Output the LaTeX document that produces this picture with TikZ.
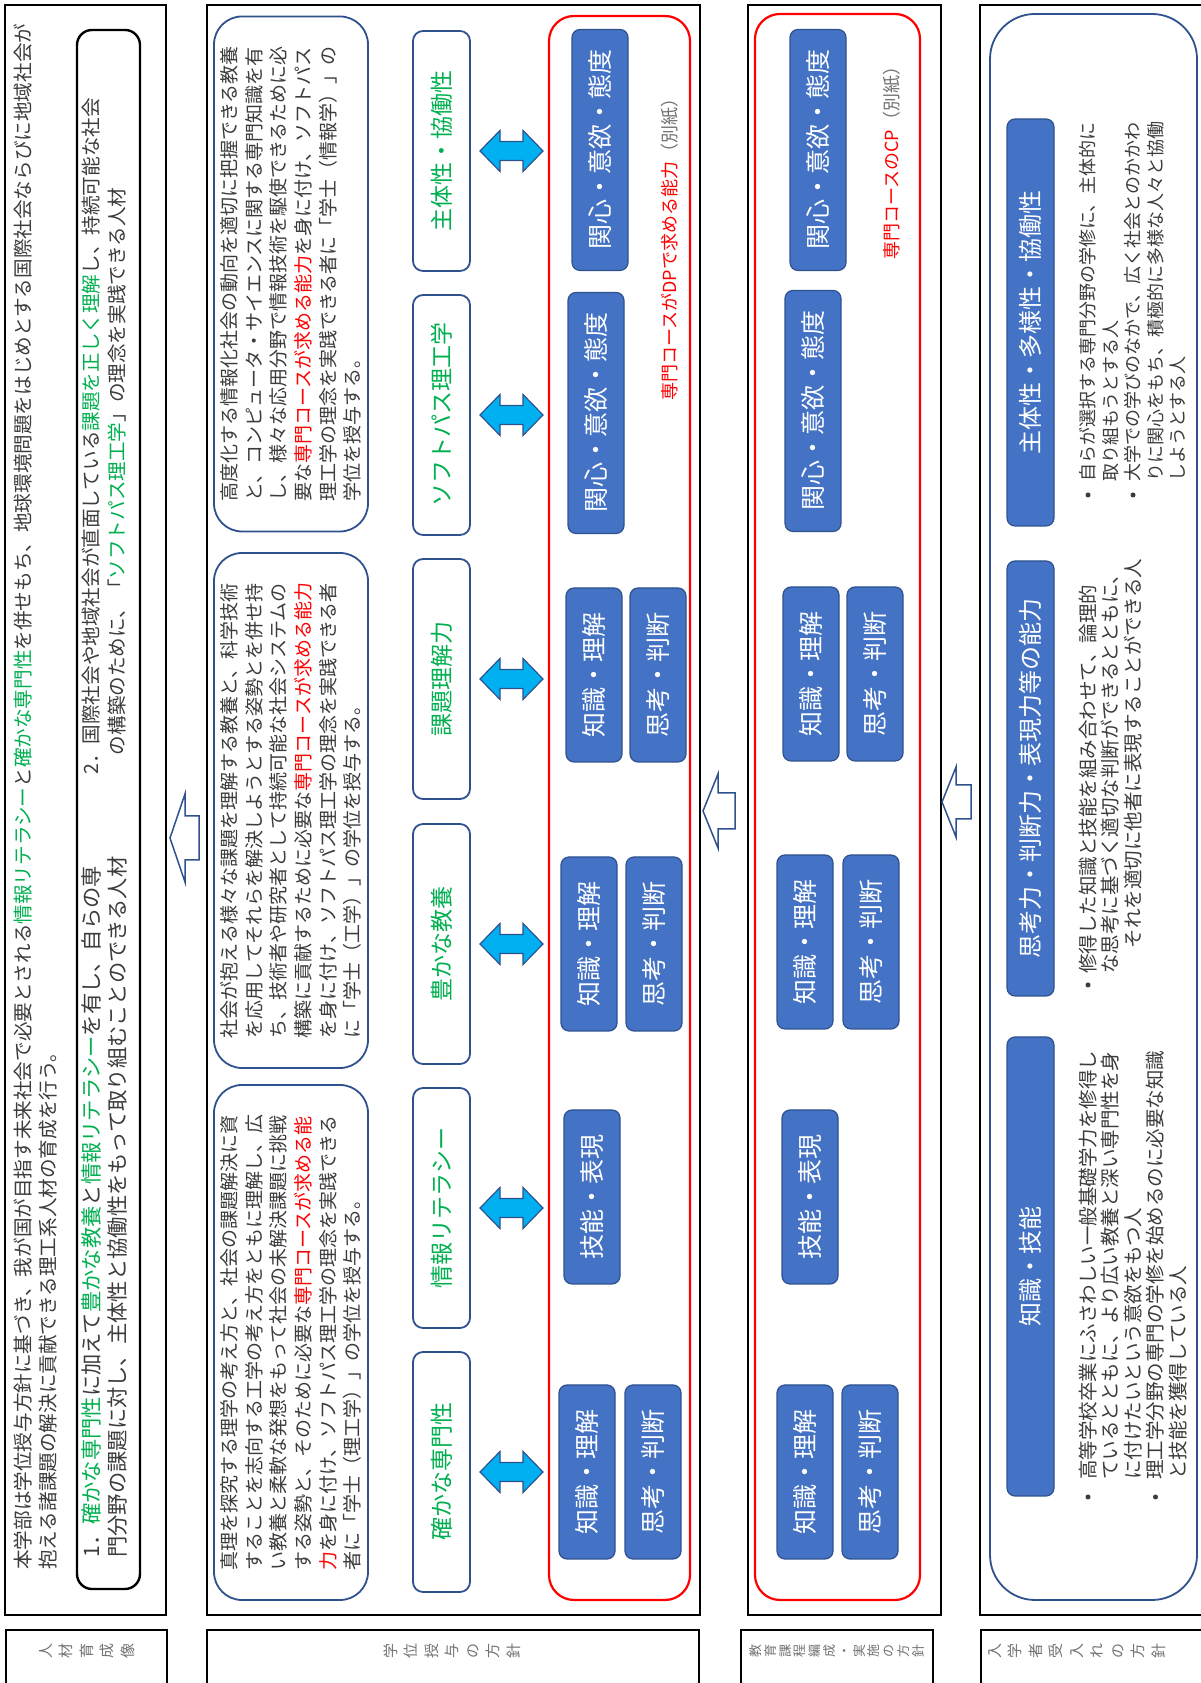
\documentclass[tikz,border=0pt]{standalone}
\usepackage{fontspec}
\setmainfont{Noto Sans CJK JP}
\definecolor{DeepBlue}{RGB}{47,82,143}
\definecolor{BoxBlue}{RGB}{68,114,196}
\definecolor{SkyBlue}{RGB}{0,176,240}
\definecolor{KeyGreen}{RGB}{0,176,80}
\definecolor{BodyGray}{RGB}{60,60,60}
\tikzset{
  rowbox/.style={draw=black,line width=2.4pt},
  labbox/.style={draw=black,line width=1.2pt},
  labtxt/.style={text=black!55,font=\fontsize{15}{20.5}\selectfont,align=center,inner sep=0pt},
  bodytxt/.style={text=BodyGray,align=left,inner sep=0pt,font=\fontsize{19.6}{25}\selectfont},
  dpbox/.style={draw=DeepBlue,line width=1.8pt,rounded corners=28pt,minimum width=515pt,
    minimum height=154pt,align=left,text=BodyGray,font=\fontsize{19}{24.6}\selectfont,inner sep=0pt},
  keybox/.style={draw=DeepBlue,line width=1.8pt,rounded corners=10pt,minimum width=240pt,
    minimum height=57pt,text=KeyGreen,font=\fontsize{23}{23}\selectfont,inner sep=0pt},
  abil/.style={draw=DeepBlue,fill=BoxBlue,line width=1.2pt,rounded corners=8pt,minimum width=174pt,
    minimum height=56pt,text=white,font=\fontsize{25}{25}\selectfont,inner sep=0pt},
  abilwide/.style={abil,minimum width=241pt},
  head/.style={abil,minimum height=47pt,font=\fontsize{24}{24}\selectfont},
  redframe/.style={draw=red,line width=2.2pt,rounded corners=25pt},
  twoway/.style={draw=DeepBlue,fill=SkyBlue,line width=1.2pt},
  upblock/.style={draw=DeepBlue,fill=white,line width=1.5pt},
  notetxt/.style={inner sep=0pt,font=\fontsize{18}{18}\selectfont},
  dot/.style={circle,fill=BodyGray,inner sep=0pt,minimum size=5pt},
}

\begin{document}
\begin{tikzpicture}[rotate=90,transform shape,x=1pt,y=1pt]
\useasboundingbox (0,0) rectangle (1683,-1200);
\fill[white] (0,0) rectangle (1683,-1200);

% row frames and labels
\draw[rowbox] (68,-5) rectangle (1678,-166);
\draw[rowbox] (68,-207) rectangle (1678,-700);
\draw[rowbox] (68,-748) rectangle (1678,-941);
\draw[rowbox] (68,-980) rectangle (1678,-1206);
\draw[labbox] (-10,-6) rectangle (53,-167);
\draw[labbox] (-10,-207) rectangle (53,-699);
\draw[labbox] (-10,-741) rectangle (53,-933);
\draw[labbox] (-10,-981) rectangle (53,-1206);
\node[labtxt] (labVision) at (32,-87) {人\\材\\育\\成\\像};
\node[labtxt] (labDP) at (32,-452) {学\\位\\授\\与\\の\\方\\針};
\node[labtxt,font=\fontsize{13}{14.8}\selectfont] (labCP) at (32,-837) {教\\育\\課\\程\\編\\成\\・\\実\\施\\の\\方\\針};
\node[labtxt] (labAP) at (32,-1077) {入\\学\\者\\受\\入\\れ\\の\\方\\針};

% row 1: vision
\node[bodytxt,anchor=west] (vision) at (113,-35.5) {本学部は学位授与方針に基づき、我が国が目指す未来社会で必要とされる\textcolor{KeyGreen}{情報リテラシー}と\textcolor{KeyGreen}{確かな専門性}を併せもち、地球環境問題をはじめとする国際社会ならびに地域社会が\\抱える諸課題の解決に貢献できる理工系人材の育成を行う。};
\draw[black,line width=2.4pt,rounded corners=15pt] (94,-77) rectangle (1653,-140);
\node[bodytxt,anchor=west,font=\fontsize{21.3}{26}\selectfont] (aim1) at (125,-104) {1．\textcolor{KeyGreen}{確かな専門性}に加えて\textcolor{KeyGreen}{豊かな教養}と\textcolor{KeyGreen}{情報リテラシー}を有し、自らの専\\門分野の課題に対し、主体性と協働性をもって取り組むことのできる人材};
\node[bodytxt,anchor=west,font=\fontsize{19.6}{26}\selectfont] (aim2) at (908,-104) {2．国際社会や地域社会が直面している\textcolor{KeyGreen}{課題を正しく理解}し、持続可能な社会\\\hspace*{1em}の構築のために、「\textcolor{KeyGreen}{ソフトパス理工学}」の理念を実践できる人材};

% block arrows between rows
\foreach \c/\t/\b/\e/\hw/\sw in {845/170/185/199/44/22,872/703/718/735/37/18,881/942/956/971/35/17}
  \draw[upblock] (\c,-\t) -- (\c+\hw,-\b) -- (\c+\sw,-\b) -- (\c+\sw,-\e) -- (\c-\sw,-\e)
    -- (\c-\sw,-\b) -- (\c-\hw,-\b) -- cycle;

% row 2: diploma policy
\node[dpbox] (dpA) at (340.5,-291) {真理を探究する理学の考え方と、社会の課題解決に資\\することを志向する工学の考え方をともに理解し、広\\い教養と柔軟な発想をもって社会の未解決課題に挑戦\\する姿勢と、そのために必要な\textcolor{red}{専門コースが求める能}\\\textcolor{red}{力}を身に付け、ソフトパス理工学の理念を実践できる\\者に「学士（理工学）」の学位を授与する。};
\node[dpbox] (dpB) at (872.5,-291) {社会が抱える様々な課題を理解する教養と、科学技術\\を応用してそれらを解決しようとする姿勢とを併せ持\\ち、技術者や研究者として持続可能な社会システムの\\構築に貢献するために必要な\textcolor{red}{専門コースが求める能力}\\を身に付け、ソフトパス理工学の理念を実践できる者\\に「学士（工学）」の学位を授与する。};
\node[dpbox] (dpC) at (1409,-291) {高度化する情報化社会の動向を適切に把握できる教養\\と、コンピュータ・サイエンスに関する専門知識を有\\し、様々な応用分野で情報技術を駆使できるために必\\要な\textcolor{red}{専門コースが求める能力}を身に付け、ソフトパス\\理工学の理念を実践できる者に「学士（情報学）」の\\学位を授与する。};

\node[keybox] (kSpec) at (211,-441.5) {確かな専門性};
\node[keybox] (kLit) at (475,-441.5) {情報リテラシー};
\node[keybox] (kCult) at (739,-441.5) {豊かな教養};
\node[keybox] (kIssue) at (1004,-441.5) {課題理解力};
\node[keybox] (kSoft) at (1268,-441.5) {ソフトパス理工学};
\node[keybox] (kAuto) at (1532,-441.5) {主体性・協働性};

\foreach \c in {211,475,739,1004,1268,1532}
  \draw[twoway] (\c,-480) -- (\c+20.5,-500) -- (\c+9.5,-500) -- (\c+9.5,-523) -- (\c+20.5,-523)
    -- (\c,-543) -- (\c-20.5,-523) -- (\c-9.5,-523) -- (\c-9.5,-500) -- (\c-20.5,-500) -- cycle;

\draw[redframe] (83,-549) rectangle (1667,-690);
\node[abil] (dpK1) at (211,-587) {知識・理解};
\node[abil] (dpT1) at (211,-653) {思考・判断};
\node[abil] (dpS2) at (486,-592) {技能・表現};
\node[abil] (dpK3) at (739,-589) {知識・理解};
\node[abil] (dpT3) at (739,-654) {思考・判断};
\node[abil] (dpK4) at (1008,-594) {知識・理解};
\node[abil] (dpT4) at (1008,-658) {思考・判断};
\node[abilwide] (dpI5) at (1270,-596) {関心・意欲・態度};
\node[abilwide] (dpI6) at (1533,-600) {関心・意欲・態度};
\node[notetxt,anchor=west] (dpNote) at (1282,-670) {\textcolor{red}{専門コースがDPで求める能力}\textcolor{black!55}{（別紙）}};

% row 3: curriculum policy
\draw[redframe] (83,-755) rectangle (1669,-920);
\node[abil] (cpK1) at (211,-805) {知識・理解};
\node[abil] (cpT1) at (211,-870) {思考・判断};
\node[abil] (cpS2) at (486,-810) {技能・表現};
\node[abil] (cpK3) at (741,-805) {知識・理解};
\node[abil] (cpT3) at (741,-871) {思考・判断};
\node[abil] (cpK4) at (1009,-811) {知識・理解};
\node[abil] (cpT4) at (1009,-875) {思考・判断};
\node[abilwide] (cpI5) at (1272,-813) {関心・意欲・態度};
\node[abilwide] (cpI6) at (1533,-818) {関心・意欲・態度};
\node[notetxt,anchor=west] (cpNote) at (1423,-892) {\textcolor{red}{専門コースのCP}\textcolor{black!55}{（別紙）}};

% row 4: admission policy
\draw[draw=DeepBlue,line width=1.8pt,rounded corners=45pt] (83,-990) rectangle (1669,-1197);
\node[head,minimum width=459pt] (hKnow) at (416.5,-1030.5) {知識・技能};
\node[head,minimum width=435pt] (hThink) at (904.5,-1030.5) {思考力・判断力・表現力等の能力};
\node[head,minimum width=407pt] (hWill) at (1360.5,-1030.5) {主体性・多様性・協働性};

\node[dot] (b1) at (186,-1088) {};
\node[dot] (b2) at (186,-1155.5) {};
\node[bodytxt,anchor=west,font=\fontsize{19.5}{22.5}\selectfont] (apKnow) at (203,-1133) {高等学校卒業にふさわしい一般基礎学力を修得し\\ているとともに、より広い教養と深い専門性を身\\に付けたいという意欲をもつ人\\理工学分野の専門の学修を始めるのに必要な知識\\と技能を獲得している人};
\node[dot] (b3) at (698,-1088) {};
\node[bodytxt,anchor=west,font=\fontsize{19.5}{22.5}\selectfont] (apThink) at (709,-1110.5) {修得した知識と技能を組み合わせて、論理的\\な思考に基づく適切な判断ができるとともに、\\\hspace*{1.3em}それを適切に他者に表現することができる人};
\node[dot] (b4) at (1188,-1088) {};
\node[dot] (b5) at (1188,-1133) {};
\node[bodytxt,anchor=west,font=\fontsize{18}{22.5}\selectfont] (apWill) at (1201,-1133) {自らが選択する専門分野の学修に、主体的に\\取り組もうとする人\\大学での学びのなかで、広く社会とのかかわ\\りに関心をもち、積極的に多様な人々と協働\\しようとする人};
\end{tikzpicture}
\end{document}
